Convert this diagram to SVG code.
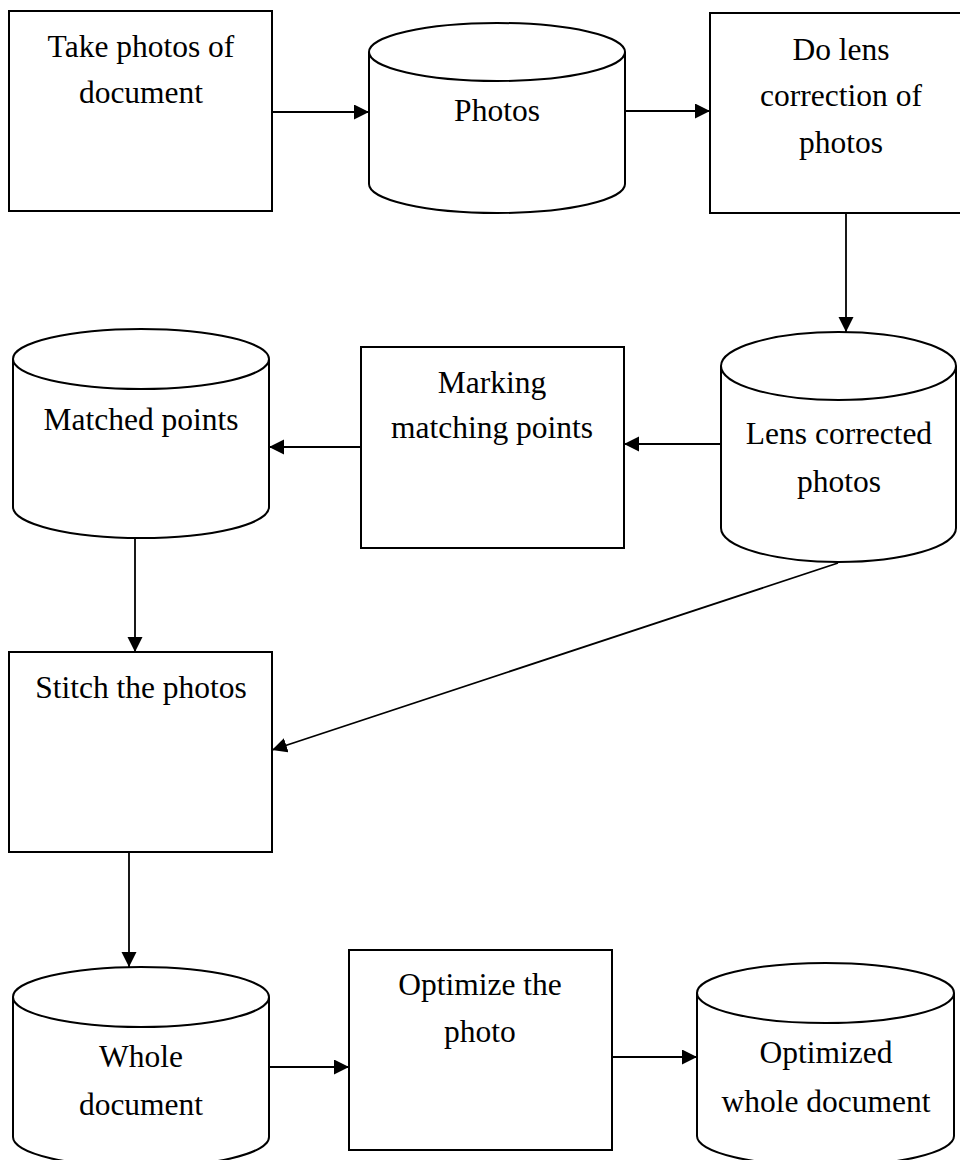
<svg xmlns="http://www.w3.org/2000/svg" width="960" height="1160" viewBox="0 0 960 1160">
  <style>
    .shape { fill: #ffffff; stroke: #000000; stroke-width: 2; }
    .edge { fill: none; stroke: #000000; stroke-width: 1.8; marker-end: url(#arrow); }
    text { font-family: "Liberation Serif", "Times New Roman", serif; font-size: 31.5px; fill: #000000; text-anchor: middle; }
  </style>
  <defs>
    <marker id="arrow" markerUnits="userSpaceOnUse" markerWidth="16" markerHeight="16" refX="15" refY="7.5" orient="auto">
      <path d="M0,0 L15,7.5 L0,15 Z" fill="#000000"/>
    </marker>
  </defs>
  <rect width="960" height="1160" fill="#ffffff"/>

  <!-- process: take photos -->
  <g id="take-photos">
    <rect class="shape" x="9" y="11" width="263" height="200"/>
    <text x="141" y="57">Take photos of</text>
    <text x="141" y="103">document</text>
  </g>

  <!-- store: photos -->
  <g id="photos">
    <path class="shape" d="M369,52 L369,184 A128,29 0 0 0 625,184 L625,52"/>
    <ellipse class="shape" cx="497" cy="52" rx="128" ry="29"/>
    <text x="497" y="121">Photos</text>
  </g>

  <!-- process: lens correction -->
  <g id="lens-correction">
    <rect class="shape" x="710" y="13" width="263" height="200"/>
    <text x="841" y="60">Do lens</text>
    <text x="841" y="106">correction of</text>
    <text x="841" y="153">photos</text>
  </g>

  <!-- store: lens corrected photos -->
  <g id="lens-corrected">
    <path class="shape" d="M721,366 L721,528 A117.5,34 0 0 0 956,528 L956,366"/>
    <ellipse class="shape" cx="838.5" cy="366" rx="117.5" ry="34"/>
    <text x="839" y="444">Lens corrected</text>
    <text x="839" y="492">photos</text>
  </g>

  <!-- process: marking matching points -->
  <g id="marking">
    <rect class="shape" x="361" y="347" width="263" height="201"/>
    <text x="492" y="393">Marking</text>
    <text x="492" y="438">matching points</text>
  </g>

  <!-- store: matched points -->
  <g id="matched-points">
    <path class="shape" d="M13,359 L13,507 A128,31 0 0 0 269,507 L269,359"/>
    <ellipse class="shape" cx="141" cy="359" rx="128" ry="30"/>
    <text x="141" y="430">Matched points</text>
  </g>

  <!-- process: stitch -->
  <g id="stitch">
    <rect class="shape" x="9" y="652" width="263" height="200"/>
    <text x="141" y="698">Stitch the photos</text>
  </g>

  <!-- store: whole document -->
  <g id="whole-document">
    <path class="shape" d="M13,997 L13,1137 A128,30 0 0 0 269,1137 L269,997"/>
    <ellipse class="shape" cx="141" cy="997" rx="128" ry="30"/>
    <text x="141" y="1067">Whole</text>
    <text x="141" y="1115">document</text>
  </g>

  <!-- process: optimize -->
  <g id="optimize">
    <rect class="shape" x="349" y="950" width="263" height="200"/>
    <text x="480" y="995">Optimize the</text>
    <text x="480" y="1042">photo</text>
  </g>

  <!-- store: optimized whole document -->
  <g id="optimized-document">
    <path class="shape" d="M697,993 L697,1136 A128.5,30 0 0 0 954,1136 L954,993"/>
    <ellipse class="shape" cx="825.5" cy="993" rx="128.5" ry="30"/>
    <text x="826" y="1063">Optimized</text>
    <text x="826" y="1112">whole document</text>
  </g>

  <!-- connectors -->
  <g id="connectors">
    <line class="edge" x1="272" y1="112" x2="369" y2="112"/>
    <line class="edge" x1="625" y1="111" x2="710" y2="111"/>
    <line class="edge" x1="846" y1="213" x2="846" y2="332"/>
    <line class="edge" x1="721" y1="444" x2="624" y2="444"/>
    <line class="edge" x1="361" y1="447" x2="269" y2="447"/>
    <line class="edge" x1="135" y1="538" x2="135" y2="652"/>
    <line class="edge" x1="838" y1="563" x2="272" y2="750"/>
    <line class="edge" x1="129" y1="852" x2="129" y2="967"/>
    <line class="edge" x1="269" y1="1067" x2="349" y2="1067"/>
    <line class="edge" x1="612" y1="1057" x2="697" y2="1057"/>
  </g>
</svg>
